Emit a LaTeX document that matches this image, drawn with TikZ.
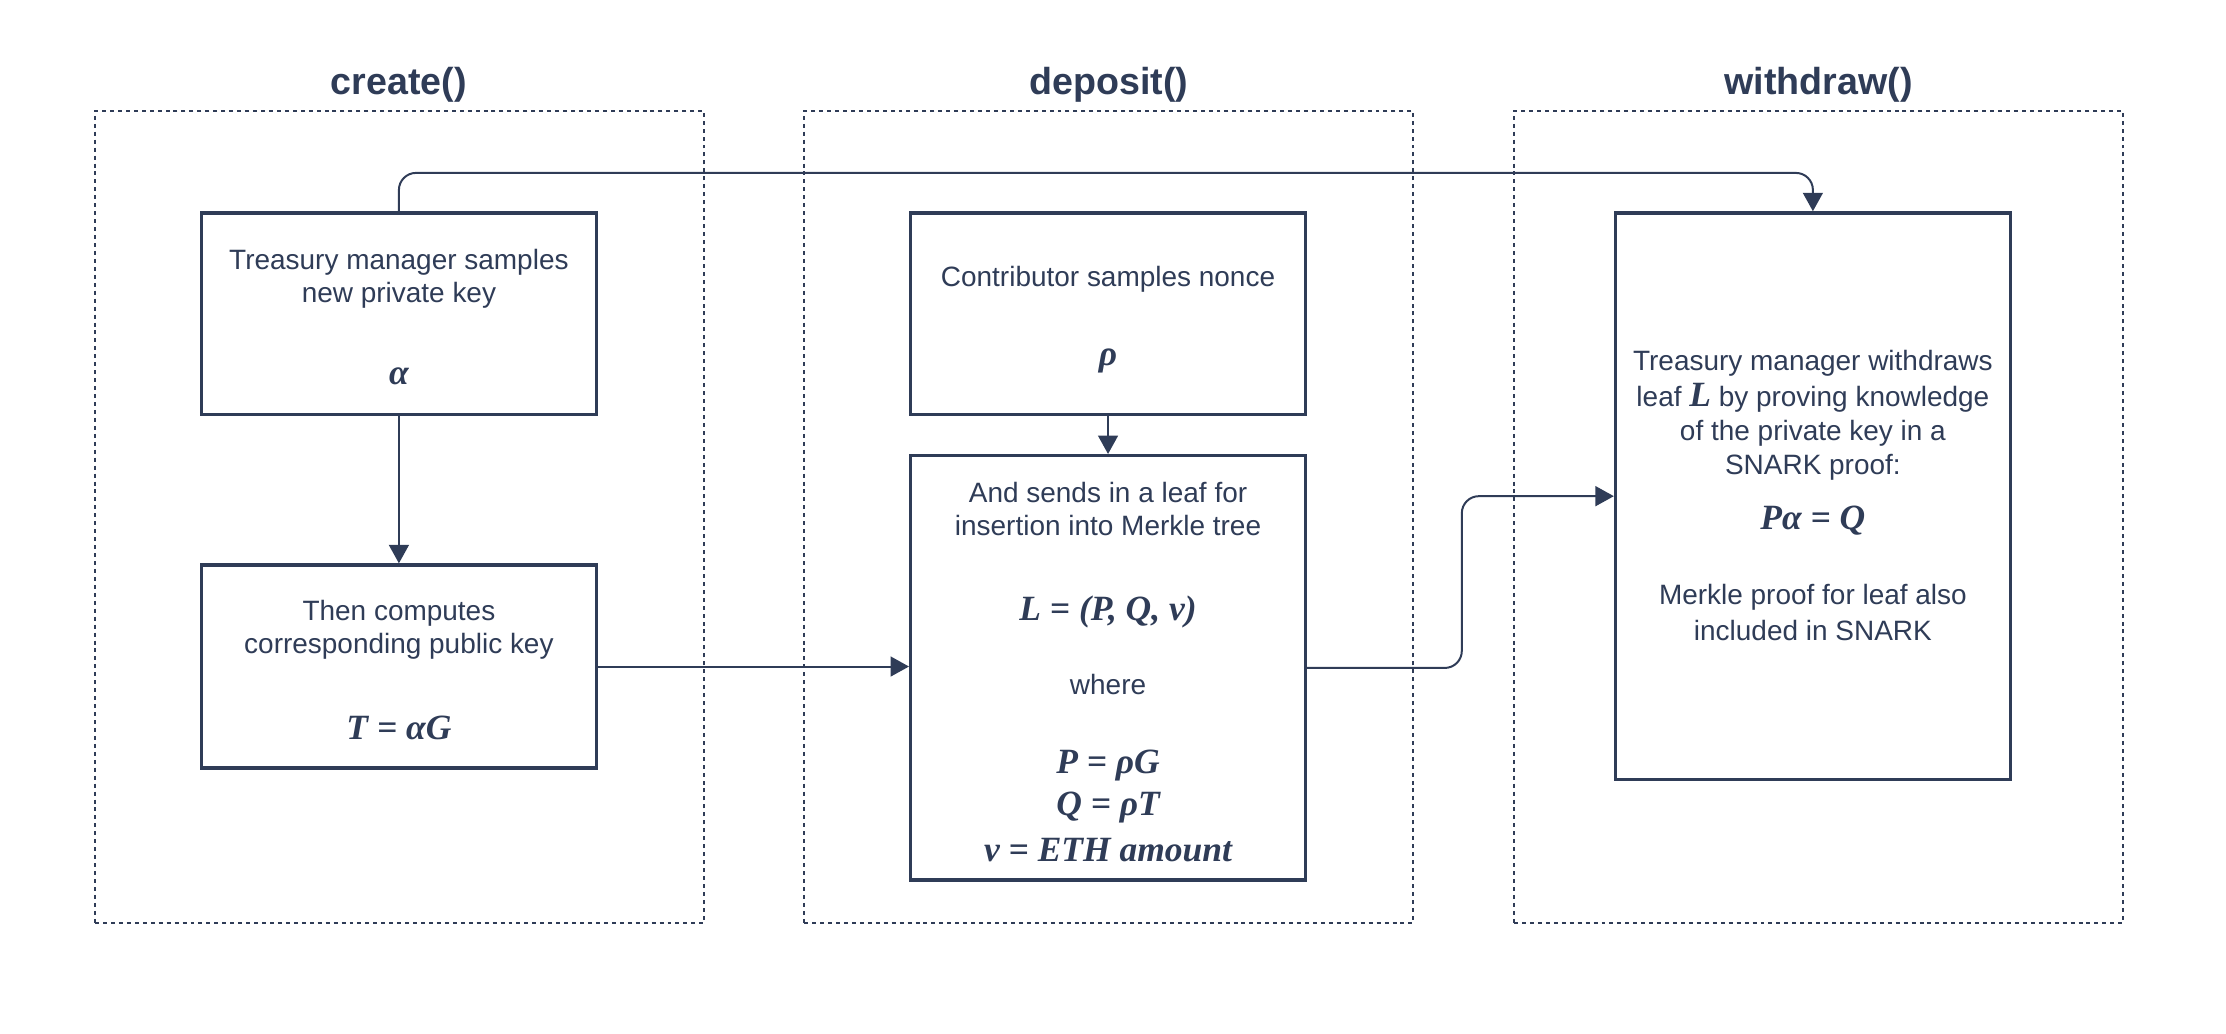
\documentclass[tikz,border=0pt]{standalone}
\usepackage{fontspec}
\setmainfont{Liberation Sans}
\newfontfamily\mathserif{Liberation Serif}
\usetikzlibrary{arrows.meta}
\definecolor{navy}{HTML}{2F3C57}
\newcommand{\bodyfont}{\fontsize{19.7}{23.6}\selectfont}
\newcommand{\titlefont}{\fontsize{26.5}{31}\selectfont\bfseries}
\newcommand{\mathfont}{\fontsize{25}{30}\selectfont\mathserif\bfseries\itshape}
\newcommand{\mth}[1]{{\mathfont #1}}
\tikzset{
  container/.style={draw=navy, line width=1.3pt, dash pattern=on 2.8pt off 2.8pt, rectangle, minimum width=429pt, minimum height=572pt, inner sep=0pt},
  box/.style={draw=navy, line width=2.4pt, rectangle, minimum width=278pt, inner sep=0pt, fill=white},
  title/.style={text=navy, font=\titlefont, inner sep=0pt},
  txt/.style={text=navy, font=\bodyfont, inner sep=0pt, text height=0.72em, text depth=0.22em, yshift=-4.5pt},
  mtxt/.style={text=navy, font=\mathfont, inner sep=0pt, yshift=-3pt},
  conn/.style={draw=navy, line width=1.4pt, rounded corners=12pt, -{Triangle[length=13pt,width=14pt]}}
}
\begin{document}
\begin{tikzpicture}[x=1pt,y=-1pt]
\useasboundingbox (0,0) rectangle (1568,728);
% containers
\node[container] (k1) at (281.5,364) {};
\node[container] (k2) at (781,364) {};
\node[container] (k3) at (1281,364) {};
\node[title] (t1) at (281,60) {create()};
\node[title] (t2) at (781,60) {deposit()};
\node[title] (t3) at (1281,60) {withdraw()};
% boxes
\node[box, minimum height=142pt] (a) at (281,221) {};
\node[box, minimum height=143pt] (b) at (281,469.5) {};
\node[box, minimum height=142pt] (c) at (780.5,221) {};
\node[box, minimum height=299pt] (d) at (780.5,470.5) {};
\node[box, minimum height=399pt] (e) at (1277,349.5) {};
% texts A
\node[txt] (a1) at (281,183) {Treasury manager samples};
\node[txt] (a2) at (281,206) {new private key};
\node[mtxt] (a3) at (281,262) {α};
% texts B
\node[txt] (b1) at (281,430) {Then computes};
\node[txt] (b2) at (281,453) {corresponding public key};
\node[mtxt] (b3) at (281,510) {T = αG};
% texts C
\node[txt] (c1) at (780.5,195) {Contributor samples nonce};
\node[mtxt] (c2) at (780.5,251) {ρ};
% texts D
\node[txt] (d1) at (780.5,347) {And sends in a leaf for};
\node[txt] (d2) at (780.5,370) {insertion into Merkle tree};
\node[mtxt] (d3) at (780.5,428) {L = (P, Q, v)};
\node[txt] (d4) at (780.5,482) {where};
\node[mtxt] (d5) at (780.5,536) {P = ρG};
\node[mtxt] (d6) at (780.5,566) {Q = ρT};
\node[mtxt] (d7) at (780.5,596) {v = ETH amount};
% texts E
\node[txt] (e1) at (1277,254) {Treasury manager withdraws};
\node[txt] (e2) at (1277,279) {leaf \mth{L} by proving knowledge};
\node[txt] (e3) at (1277,303) {of the private key in a};
\node[txt] (e4) at (1277,327) {SNARK proof:};
\node[mtxt] (e5) at (1277,364) {Pα = Q};
\node[txt] (e6) at (1277,419) {Merkle proof for leaf also};
\node[txt] (e7) at (1277,444) {included in SNARK};
% connectors
\draw[conn] (a.north) -- ++(0,-27) -| (e.north);
\draw[conn] (a.south) -- (b.north);
\draw[conn] (c.south) -- (d.north);
\draw[conn] (b.east) -- (b.east -| d.west);
\draw[conn] (d.east) -- ++(109,0) |- (e.west);
\end{tikzpicture}
\end{document}
